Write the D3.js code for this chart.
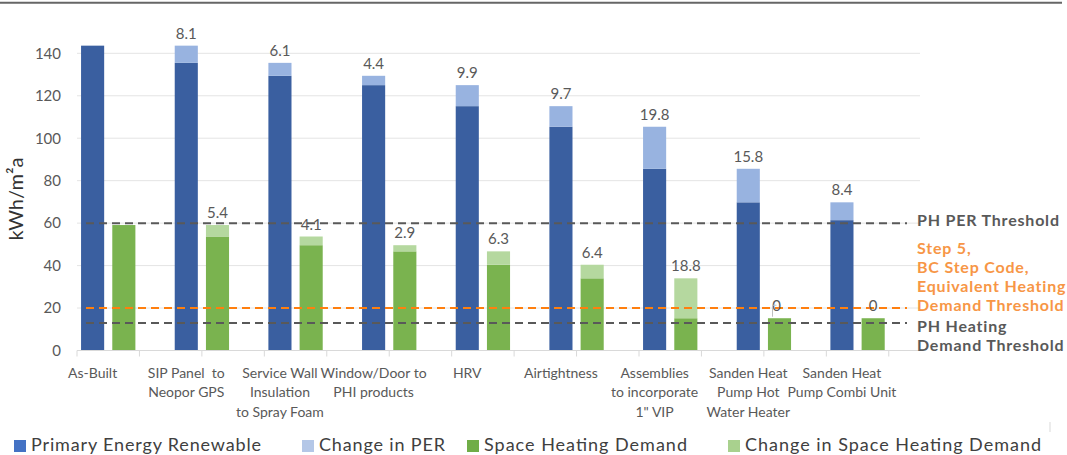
<!DOCTYPE html>
<html>
<head>
<meta charset="utf-8">
<script src="https://cdn.jsdelivr.net/npm/d3@7"></script>
<style>
  html, body { margin: 0; padding: 0; background: #fff; }
  svg { display: block; }
</style>
</head>
<body>
<div id="chart"></div>
<script>
// categories (multi-line labels)
const categories = [
    ["As-Built"],
    ["SIP Panel  to", "Neopor GPS"],
    ["Service Wall", "Insulation", "to Spray Foam"],
    ["Window/Door to", "PHI products"],
    ["HRV"],
    ["Airtightness"],
    ["Assemblies", "to incorporate", "1\" VIP"],
    ["Sanden Heat", "Pump Hot", "Water Heater"],
    ["Sanden Heat", "Pump Combi Unit"]
];

// kWh/m²a
const perValues = [143.6, 135.5, 129.4, 125.0, 115.1, 105.4, 85.6, 69.8, 61.4];
const perChange = [null, 8.1, 6.1, 4.4, 9.9, 9.7, 19.8, 15.8, 8.4];
const shdValues = [59.1, 53.7, 49.6, 46.7, 40.4, 34.0, 15.2, 15.2, 15.2];
const shdChange = [null, 5.4, 4.1, 2.9, 6.3, 6.4, 18.8, 0, 0];

const yTicks = [0, 20, 40, 60, 80, 100, 120, 140];

const thresholds = [
    {value: 60, color: "#595959", textColor: "#595959", lines: ["PH PER Threshold"], anchor: "middle"},
    {value: 20, color: "#ff7f0e", textColor: "#f79646", lines: ["Step 5,", "BC Step Code,", "Equivalent Heating", "Demand Threshold"], anchor: "bottom"},
    {value: 13, color: "#595959", textColor: "#595959", lines: ["PH Heating", "Demand Threshold"], anchor: "top"}
];

const legendItems = [
    {label: "Primary Energy Renewable", color: "#4472c4"},
    {label: "Change in PER", color: "#b4c7e7"},
    {label: "Space Heating Demand", color: "#70ad47"},
    {label: "Change in Space Heating Demand", color: "#a9d18e"}
];

const colors = {
    per: "#3a5fa0",
    perChange: "#98b3e0",
    shd: "#7ab34f",
    shdChange: "#b5d89f"
};

const W = 1067, H = 455;
const plot = {left: 77, right: 920, top: 53.3, bottom: 350.5};

const svg = d3.select("#chart").append("svg")
    .attr("width", W)
    .attr("height", H)
    .attr("font-family", "Lato, 'Open Sans', sans-serif");

// top rule
svg.append("line")
    .attr("x1", 0).attr("x2", 1062)
    .attr("y1", 2.7).attr("y2", 2.7)
    .attr("stroke", "#666")
    .attr("stroke-width", 2);

// scales
const x0 = d3.scaleBand()
    .domain(d3.range(categories.length))
    .range([plot.left, plot.right]);

const x1 = d3.scaleBand()
    .domain(["per", "shd", "none"])
    .range([0, x0.bandwidth()])
    .paddingInner(0.26)
    .paddingOuter(0.13);

const y = d3.scaleLinear()
    .domain([0, 140])
    .range([plot.bottom, plot.top]);

// slot scale used for the category tick marks (a tick every 2 slots)
const slots = d3.scaleLinear()
    .domain([0, categories.length * 3])
    .range([plot.left, plot.right]);

// gridlines
svg.append("g")
    .selectAll("line")
    .data(yTicks.filter(d => d > 0))
    .enter().append("line")
    .attr("x1", plot.left)
    .attr("x2", plot.right)
    .attr("y1", d => y(d))
    .attr("y2", d => y(d))
    .attr("stroke", "#e4e4e4")
    .attr("stroke-width", 1);

// y axis labels
const yAxis = svg.append("g")
    .attr("transform", "translate(" + (plot.left - 16) + ",0)")
    .call(d3.axisLeft(y).tickValues(yTicks).tickSize(0).tickPadding(0));
yAxis.select(".domain").remove();
yAxis.selectAll("text")
    .attr("font-family", "Lato, sans-serif")
    .attr("font-size", 15)
    .attr("fill", "#595959");

// y axis title
svg.append("text")
    .attr("transform", "translate(23," + 199 + ") rotate(-90)")
    .attr("text-anchor", "middle")
    .attr("font-size", 20)
    .attr("fill", "#333")
    .text("kWh/m²a");

// bars
const groups = svg.append("g")
    .selectAll("g")
    .data(categories.map((c, i) => i))
    .enter().append("g")
    .attr("transform", i => "translate(" + x0(i) + ",0)");

// PER base
groups.append("rect")
    .attr("x", x1("per"))
    .attr("width", x1.bandwidth())
    .attr("y", i => y(perValues[i]))
    .attr("height", i => y(0) - y(perValues[i]))
    .attr("fill", colors.per);

// PER change (stacked)
groups.filter(i => perChange[i])
    .append("rect")
    .attr("x", x1("per"))
    .attr("width", x1.bandwidth())
    .attr("y", i => y(perValues[i] + perChange[i]))
    .attr("height", i => y(perValues[i]) - y(perValues[i] + perChange[i]))
    .attr("fill", colors.perChange);

// SHD base
groups.append("rect")
    .attr("x", x1("shd"))
    .attr("width", x1.bandwidth())
    .attr("y", i => y(shdValues[i]))
    .attr("height", i => y(0) - y(shdValues[i]))
    .attr("fill", colors.shd);

// SHD change (stacked)
groups.filter(i => shdChange[i])
    .append("rect")
    .attr("x", x1("shd"))
    .attr("width", x1.bandwidth())
    .attr("y", i => y(shdValues[i] + shdChange[i]))
    .attr("height", i => y(shdValues[i]) - y(shdValues[i] + shdChange[i]))
    .attr("fill", colors.shdChange);

// x axis line and tick marks
svg.append("line")
    .attr("x1", plot.left).attr("x2", plot.right)
    .attr("y1", y(0)).attr("y2", y(0))
    .attr("stroke", "#d9d9d9")
    .attr("stroke-width", 1);

svg.append("g")
    .selectAll("line")
    .data(d3.range(0, categories.length * 3, 2))
    .enter().append("line")
    .attr("x1", d => slots(d))
    .attr("x2", d => slots(d))
    .attr("y1", y(0))
    .attr("y2", y(0) + 6)
    .attr("stroke", "#d9d9d9")
    .attr("stroke-width", 1);

// category labels, centred under the PER bar
const catLabels = svg.append("g")
    .attr("font-size", 14)
    .attr("fill", "#595959")
    .attr("text-anchor", "middle")
    .selectAll("text")
    .data(categories)
    .enter().append("text")
    .attr("x", (d, i) => x0(i) + x1("per") + x1.bandwidth() / 2)
    .attr("y", y(0) + 27);

catLabels.selectAll("tspan")
    .data(d => d)
    .enter().append("tspan")
    .attr("x", function() { return this.parentNode.getAttribute("x"); })
    .attr("dy", (d, i) => i === 0 ? 0 : 19.5)
    .attr("xml:space", "preserve")
    .text(d => d);

// threshold lines
const lineX = [plot.left + 9, plot.right - 13];
svg.append("g")
    .selectAll("line")
    .data(thresholds)
    .enter().append("line")
    .attr("x1", lineX[0])
    .attr("x2", lineX[1])
    .attr("y1", d => y(d.value))
    .attr("y2", d => y(d.value))
    .attr("stroke", d => d.color)
    .attr("stroke-width", 2)
    .attr("stroke-dasharray", "8,5");

// data labels for the changes
const labelGroup = svg.append("g")
    .attr("font-size", 15)
    .attr("fill", "#595959")
    .attr("text-anchor", "middle");

perChange.forEach(function(v, i) {
    if (v === null) return;
    labelGroup.append("text")
        .attr("x", x0(i) + x1("per") + x1.bandwidth() / 2)
        .attr("y", y(perValues[i] + v) - 7)
        .text(v);
});

shdChange.forEach(function(v, i) {
    if (v === null) return;
    const cx = x0(i) + x1("shd") + x1.bandwidth() / 2;
    const top = y(shdValues[i] + v);
    const t = labelGroup.append("text")
        .attr("x", cx)
        .attr("y", top - 7)
        .text(v);
    // first zero label was nudged left with a leader line
    if (v === 0 && shdChange.indexOf(0) === i) {
        t.attr("x", cx - 3);
        svg.append("path")
            .attr("d", "M" + (cx - 7) + "," + (top - 1.5) + "V" + (top - 13) + "h4")
            .attr("fill", "none")
            .attr("stroke", "#bfbfbf")
            .attr("stroke-width", 1);
    }
});

// threshold annotations
const annot = svg.append("g")
    .attr("font-size", 16)
    .attr("letter-spacing", "0.8px")
    .attr("font-weight", "bold");

thresholds.forEach(function(t) {
    const lh = 19;
    let y0;
    if (t.anchor === "middle") y0 = y(t.value) - 2.5;
    else if (t.anchor === "bottom") y0 = y(t.value) - 2.5 - lh * (t.lines.length - 1);
    else y0 = y(t.value) + 3;
    t.lines.forEach(function(line, k) {
        annot.append("text")
            .attr("x", plot.right - 3)
            .attr("y", y0 + k * lh)
            .attr("dy", "0.35em")
            .attr("fill", t.textColor)
            .text(line);
    });
});

// legend
const legendX = [14, 302, 467, 728];
const legendTextWidth = [230, 126, 203, 296];
const legend = svg.append("g")
    .attr("font-family", "Lato, 'Open Sans', sans-serif")
    .attr("font-size", 18)
    .selectAll("g")
    .data(legendItems)
    .enter().append("g")
    .attr("transform", (d, i) => "translate(" + legendX[i] + ",440)");

legend.append("rect")
    .attr("width", 12)
    .attr("height", 12)
    .attr("fill", d => d.color);

legend.append("text")
    .attr("x", 17)
    .attr("y", 10.5)
    .attr("fill", "#404040")
    .attr("textLength", (d, i) => legendTextWidth[i])
    .attr("lengthAdjust", "spacing")
    .text(d => d.label);

// small separator mark at bottom right
svg.append("line")
    .attr("x1", 1050).attr("x2", 1050)
    .attr("y1", 422).attr("y2", 432)
    .attr("stroke", "#d9d9d9")
    .attr("stroke-width", 1);
</script>
</body>
</html>
